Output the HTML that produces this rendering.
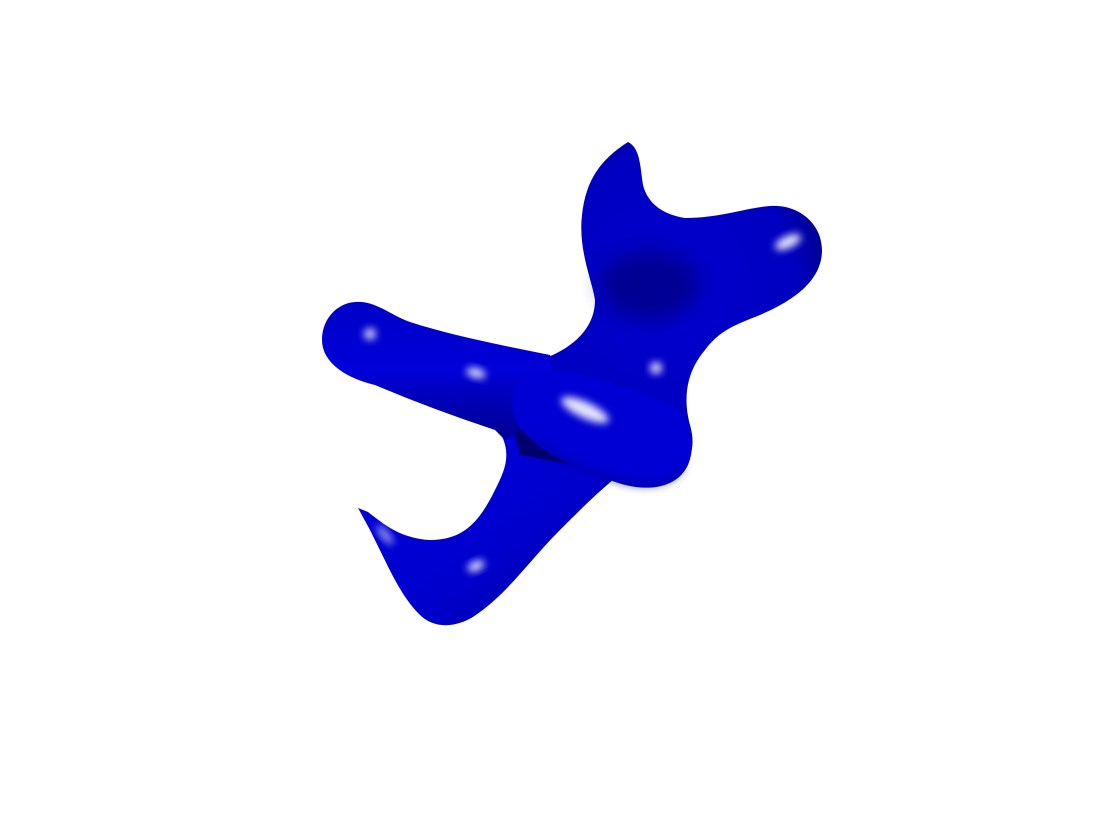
<!DOCTYPE html>
<html><head><meta charset="utf-8">
<style>
html,body{margin:0;padding:0;background:#fff;}
svg{display:block;}
</style></head>
<body>
<svg width="1098" height="827" viewBox="0 0 1098 827">
<defs>
<radialGradient id="g1" cx="50%" cy="45%" r="60%">
<stop offset="0" stop-color="#0000d0"/><stop offset="0.7" stop-color="#0000c0"/><stop offset="1" stop-color="#000070"/>
</radialGradient>
<linearGradient id="g2" x1="0" y1="0" x2="0" y2="1">
<stop offset="0" stop-color="#0000c8"/><stop offset="0.5" stop-color="#0000d8"/><stop offset="1" stop-color="#000090"/>
</linearGradient>
<linearGradient id="g3" x1="0" y1="0" x2="1" y2="1">
<stop offset="0" stop-color="#0000e0"/><stop offset="0.6" stop-color="#0000cc"/><stop offset="1" stop-color="#000090"/>
</linearGradient>
<filter id="blur" x="-50%" y="-50%" width="200%" height="200%"><feGaussianBlur stdDeviation="4"/></filter>
<filter id="blur2" x="-50%" y="-50%" width="200%" height="200%"><feGaussianBlur stdDeviation="10"/></filter>
</defs>
<g>
<path fill="url(#g3)" d="M358,508 L368,512 C385,525 400,538 430,540 C465,540 480,520 495,490 C505,470 512,455 500,432 L560,420 L625,470 C600,490 585,505 560,530 C530,560 510,590 480,612 C460,628 435,630 420,615 C400,595 390,570 370,530 Z"/>
<path fill="url(#g1)" d="M628,142 C640,148 640,165 643,185 C648,205 665,215 685,218 C720,218 745,208 770,206 C800,204 822,225 822,250 C822,280 795,300 760,315 C735,325 720,330 705,350 C688,370 682,395 690,425 C700,460 680,480 640,470 L600,470 L520,455 L505,400 L540,360 C570,350 595,330 595,300 C592,280 578,250 582,215 C586,180 600,160 628,142 Z"/>
<path fill="url(#g2)" d="M355,302 C375,300 390,315 410,322 C450,335 500,345 550,355 L560,420 C540,425 515,430 505,440 L495,430 C450,415 410,400 375,385 C345,378 322,362 322,340 C322,318 338,303 355,302 Z"/>
<path fill="#0000d4" d="M540,370 C580,368 630,390 660,400 C690,410 698,440 688,465 C675,492 640,492 610,480 C575,468 540,452 522,430 C505,410 510,375 540,370 Z"/>
<path fill="#000080" opacity="0.6" filter="url(#blur)" d="M525,430 C560,460 600,475 640,482 C665,485 680,475 688,462 C680,490 640,492 610,480 C575,468 540,452 525,430 Z"/>
</g>
<g>
<ellipse cx="788" cy="242" rx="14" ry="6" fill="#fff" opacity="0.9" filter="url(#blur)" transform="rotate(-25 788 242)"/>
<ellipse cx="370" cy="334" rx="6" ry="6" fill="#fff" opacity="0.8" filter="url(#blur)"/>
<ellipse cx="476" cy="373" rx="10" ry="5" fill="#fff" opacity="0.85" filter="url(#blur)" transform="rotate(15 476 373)"/>
<ellipse cx="656" cy="368" rx="6" ry="6" fill="#fff" opacity="0.85" filter="url(#blur)"/>
<ellipse cx="585" cy="410" rx="26" ry="8" fill="#fff" opacity="0.9" filter="url(#blur)" transform="rotate(25 585 410)"/>
<ellipse cx="476" cy="566" rx="9" ry="5" fill="#fff" opacity="0.85" filter="url(#blur)" transform="rotate(-25 476 566)"/>
<ellipse cx="385" cy="535" rx="12" ry="4" fill="#fff" opacity="0.6" filter="url(#blur)" transform="rotate(50 385 535)"/>
<ellipse cx="650" cy="285" rx="50" ry="35" fill="#000050" opacity="0.45" filter="url(#blur2)"/>
</g>
</svg>
</body></html>
